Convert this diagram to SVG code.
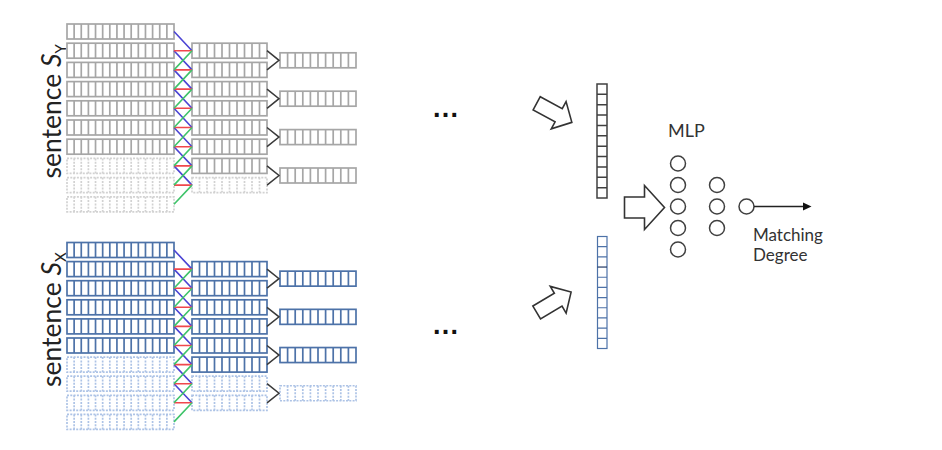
<svg xmlns="http://www.w3.org/2000/svg" xmlns:xlink="http://www.w3.org/1999/xlink" width="942" height="450" viewBox="0 0 942 450">
<style>
.vec{fill:none;stroke-width:1.7}
.g{stroke:#a6a6a6}
.gd{stroke:#d2d2d2;stroke-dasharray:2 1.3}
.b{stroke:#4d72a8}
.bd{stroke:#adc3e6;stroke-dasharray:2 1.3}
.zz{fill:none;stroke-width:1.6}
.zb{stroke:#4b44d4}
.zr{stroke:#f0474d}
.zg{stroke:#3fc46a}
.pool{fill:none;stroke:#3a3a3a;stroke-width:1.5}
.harrow{fill:#fff;stroke:#333;stroke-width:1.6;stroke-linejoin:miter}
.node{fill:#fff;stroke:#404040;stroke-width:1.5}
.lbl{font-family:Lato,"Open Sans","Liberation Sans",sans-serif;fill:#333}
.big{font-family:Lato,"Open Sans","Liberation Sans",sans-serif;fill:#222;font-size:26.5px}
.dots{font-family:"Liberation Sans",Arial,sans-serif;font-weight:bold;font-size:27px;letter-spacing:1.2px;fill:#111}
</style>
<defs>
<g id="r15"><rect x="0" y="0" width="107" height="15"/><path d="M7.13 0V15M14.27 0V15M21.4 0V15M28.53 0V15M35.67 0V15M42.8 0V15M49.93 0V15M57.07 0V15M64.2 0V15M71.33 0V15M78.47 0V15M85.6 0V15M92.73 0V15M99.87 0V15"/></g>
<g id="r10"><rect x="0" y="0" width="75" height="15"/><path d="M7.5 0V15M15 0V15M22.5 0V15M30 0V15M37.5 0V15M45 0V15M52.5 0V15M60 0V15M67.5 0V15"/></g>
<g id="rp"><rect x="0" y="0" width="76" height="15"/><path d="M7.6 0V15M15.2 0V15M22.8 0V15M30.4 0V15M38 0V15M45.6 0V15M53.2 0V15M60.8 0V15M68.4 0V15"/></g>
<polygon id="ha" points="0,-7.5 25,-7.5 25,-15.5 40,0 25,15.5 25,7.5 0,7.5"/>
</defs>
<rect x="0" y="0" width="942" height="450" fill="#fff"/>

<!-- sentence S_Y -->
<g id="sy-label"><text class="big" transform="translate(60.5,178.5) rotate(-90)">sentence <tspan font-style="italic">S</tspan><tspan dy="5.5" font-size="15">Y</tspan></text></g>
<g id="sy-words" class="vec">
<use xlink:href="#r15" class="g" x="67" y="24"/>
<use xlink:href="#r15" class="g" x="67" y="43.2"/>
<use xlink:href="#r15" class="g" x="67" y="62.4"/>
<use xlink:href="#r15" class="g" x="67" y="81.6"/>
<use xlink:href="#r15" class="g" x="67" y="100.8"/>
<use xlink:href="#r15" class="g" x="67" y="120"/>
<use xlink:href="#r15" class="g" x="67" y="139.2"/>
<use xlink:href="#r15" class="gd" x="67" y="158.4"/>
<use xlink:href="#r15" class="gd" x="67" y="177.6"/>
<use xlink:href="#r15" class="gd" x="67" y="196.8"/>
</g>
<g id="sy-conv" class="vec">
<use xlink:href="#r10" class="g" x="192" y="43.2"/>
<use xlink:href="#r10" class="g" x="192" y="62.4"/>
<use xlink:href="#r10" class="g" x="192" y="81.6"/>
<use xlink:href="#r10" class="g" x="192" y="100.8"/>
<use xlink:href="#r10" class="g" x="192" y="120"/>
<use xlink:href="#r10" class="g" x="192" y="139.2"/>
<use xlink:href="#r10" class="g" x="192" y="158.4"/>
<use xlink:href="#r10" class="gd" x="192" y="177.6"/>
</g>
<g id="sy-pool" class="vec">
<use xlink:href="#rp" class="g" x="280" y="52.8"/>
<use xlink:href="#rp" class="g" x="280" y="91.2"/>
<use xlink:href="#rp" class="g" x="280" y="129.6"/>
<use xlink:href="#rp" class="g" x="280" y="168"/>
</g>

<!-- sentence S_X -->
<g id="sx-label"><text class="big" transform="translate(60.5,387) rotate(-90)">sentence <tspan font-style="italic">S</tspan><tspan dy="5.5" font-size="15">X</tspan></text></g>
<g id="sx-words" class="vec">
<use xlink:href="#r15" class="b" x="67" y="242.5"/>
<use xlink:href="#r15" class="b" x="67" y="261.6"/>
<use xlink:href="#r15" class="b" x="67" y="280.7"/>
<use xlink:href="#r15" class="b" x="67" y="299.8"/>
<use xlink:href="#r15" class="b" x="67" y="318.9"/>
<use xlink:href="#r15" class="b" x="67" y="338"/>
<use xlink:href="#r15" class="bd" x="67" y="357.1"/>
<use xlink:href="#r15" class="bd" x="67" y="376.2"/>
<use xlink:href="#r15" class="bd" x="67" y="395.3"/>
<use xlink:href="#r15" class="bd" x="67" y="414.4"/>
</g>
<g id="sx-conv" class="vec">
<use xlink:href="#r10" class="b" x="192" y="261.6"/>
<use xlink:href="#r10" class="b" x="192" y="280.7"/>
<use xlink:href="#r10" class="b" x="192" y="299.8"/>
<use xlink:href="#r10" class="b" x="192" y="318.9"/>
<use xlink:href="#r10" class="b" x="192" y="338"/>
<use xlink:href="#r10" class="b" x="192" y="357.1"/>
<use xlink:href="#r10" class="bd" x="192" y="376.2"/>
<use xlink:href="#r10" class="bd" x="192" y="395.3"/>
</g>
<g id="sx-pool" class="vec">
<use xlink:href="#rp" class="b" x="280" y="271.15"/>
<use xlink:href="#rp" class="b" x="280" y="309.35"/>
<use xlink:href="#rp" class="b" x="280" y="347.55"/>
<use xlink:href="#rp" class="bd" x="280" y="385.75"/>
</g>

<!-- sentence vectors -->
<g id="vec-y">
<rect x="597" y="84" width="10" height="114" fill="#fff" stroke="#404040" stroke-width="1.5"/>
<path d="M597 94.36H607M597 104.73H607M597 115.09H607M597 125.45H607M597 135.82H607M597 146.18H607M597 156.55H607M597 166.91H607M597 177.27H607M597 187.64H607" stroke="#404040" stroke-width="1.5"/>
</g>
<g id="vec-x">
<rect x="597.5" y="236.5" width="9.5" height="112" fill="#fff" stroke="#4d72a8" stroke-width="1.2"/>
<path d="M597.5 246.68H607M597.5 256.86H607M597.5 277.23H607M597.5 287.41H607M597.5 297.59H607M597.5 307.77H607M597.5 317.95H607M597.5 328.14H607M597.5 338.32H607" stroke="#4d72a8" stroke-width="1.2"/>
<path d="M597.5 267.05H607" stroke="#1f3864" stroke-width="1.2"/>
</g>

<!-- MLP -->
<g id="mlp">
<text class="lbl" x="668" y="137" font-size="18">MLP</text>
<circle class="node" cx="678" cy="163.5" r="7.5"/>
<circle class="node" cx="678" cy="185" r="7.5"/>
<circle class="node" cx="678" cy="206.5" r="7.5"/>
<circle class="node" cx="678" cy="228" r="7.5"/>
<circle class="node" cx="678" cy="249.5" r="7.5"/>
<circle class="node" cx="717" cy="185" r="7.5"/>
<circle class="node" cx="717" cy="206.5" r="7.5"/>
<circle class="node" cx="717" cy="228" r="7.5"/>
</g>
<g id="output">
<circle class="node" cx="746.5" cy="206.5" r="7.5"/>
<text class="lbl" x="753" y="241" font-size="17">Matching</text>
<text class="lbl" x="753" y="261" font-size="17">Degree</text>
</g>

<!-- connectors -->
<g id="connectors">
<path class="zz zb" d="M174 31.5L192 50.7M174 50.7L192 69.9M174 69.9L192 89.1M174 89.1L192 108.3M174 108.3L192 127.5M174 127.5L192 146.7M174 146.7L192 165.9M174 165.9L192 185.1"/>
<path class="zz zr" d="M174 50.7H192M174 69.9H192M174 89.1H192M174 108.3H192M174 127.5H192M174 146.7H192M174 165.9H192M174 185.1H192"/>
<path class="zz zg" d="M174 69.9L192 50.7M174 89.1L192 69.9M174 108.3L192 89.1M174 127.5L192 108.3M174 146.7L192 127.5M174 165.9L192 146.7M174 185.1L192 165.9M174 204.3L192 185.1"/>
<path class="zz zb" d="M174 250L192 269.1M174 269.1L192 288.2M174 288.2L192 307.3M174 307.3L192 326.4M174 326.4L192 345.5M174 345.5L192 364.6M174 364.6L192 383.7M174 383.7L192 402.8"/>
<path class="zz zr" d="M174 269.1H192M174 288.2H192M174 307.3H192M174 326.4H192M174 345.5H192M174 364.6H192M174 383.7H192M174 402.8H192"/>
<path class="zz zg" d="M174 288.2L192 269.1M174 307.3L192 288.2M174 326.4L192 307.3M174 345.5L192 326.4M174 364.6L192 345.5M174 383.7L192 364.6M174 402.8L192 383.7M174 421.9L192 402.8"/>
<path class="pool" d="M267 50.7L279 60.3L267 69.9M267 89.1L279 98.7L267 108.3M267 127.5L279 137.1L267 146.7M267 165.9L279 175.5L267 185.1"/>
<path class="pool" d="M267 269.1L279 278.65L267 288.2M267 307.3L279 316.85L267 326.4M267 345.5L279 355.05L267 364.6M267 383.7L279 393.25L267 402.8"/>
<use xlink:href="#ha" class="harrow" transform="translate(536.7,103.3) rotate(28.5)"/>
<use xlink:href="#ha" class="harrow" transform="translate(536.7,312.5) rotate(-30.7)"/>
<polygon class="harrow" points="624.5,197 644.5,197 644.5,185.5 664.5,207.5 644.5,229.5 644.5,218 624.5,218"/>
<path d="M754 206.5H804" stroke="#222" stroke-width="1.4"/>
<polygon points="803,202.5 811.5,206.5 803,210.5" fill="#111"/>
</g>
<text class="dots" x="433" y="117">...</text>
<text class="dots" x="433" y="334">...</text>
</svg>
